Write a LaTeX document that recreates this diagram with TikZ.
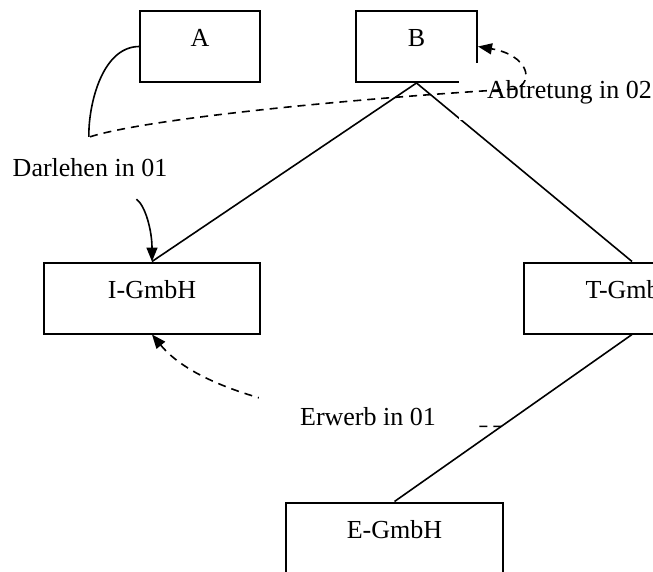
\documentclass[tikz,border=0pt]{standalone}
\usepackage{fontspec}
\setmainfont{Liberation Serif}
\usetikzlibrary{arrows.meta, calc, positioning}

\begin{document}
\begin{tikzpicture}[
  x=1pt, y=-1pt,
  font=\fontsize{26}{30}\selectfont,
  box/.style={draw, line width=2pt, rectangle, inner sep=0pt, minimum height=71pt, text height=18pt, text depth=18pt},
  link/.style={line width=1.6pt},
  lbl/.style={fill=white, inner sep=0pt},
  arrowL/.style={line width=1.6pt, -{Triangle[length=14pt, width=11pt]}},
  arrowD/.style={arrowL, dash pattern=on 8pt off 6pt}
]
\clip (0,0) rectangle (653,572);

% Companies
\node[box, minimum width=120pt] (A) at (200,46.5) {A};
\node[box, minimum width=121pt] (B) at (416.5,46.5) {B};
\node[box, minimum width=216pt] (I) at (152,298) {I-GmbH};
\node[box, minimum width=216pt] (T) at (632,298) {T-GmbH};
\node[box, minimum width=217pt] (E) at (394.5,538) {E-GmbH};

% Holdings of B
\draw[link] (B.south) -- (I.north);
\draw[link] (B.south) -- (T.north);

% Loan A -> I-GmbH
\node[lbl, minimum height=62pt, inner xsep=4pt] (dl) at (90,168) {Darlehen in 01};
\draw[arrowL] (A.west) .. controls (100,47) and (88,110) .. (dl)
   .. controls (145,205) and (152,230) .. (I.north);

% Assignment to B
\node[lbl, anchor=west, minimum height=57pt, inner xsep=28pt] (abl) at (459,92) {Abtretung in 02};
\coordinate (ab) at (515,89);
\draw[arrowD] (dl.north) .. controls (150,118) and (360,98) .. (ab)
   .. controls (535,82) and (528,55) .. (B.east);

% Acquisition by I-GmbH
\coordinate (ew) at ($(T.south)!0.55!(E.north)$);
\draw[arrowD] (ew) .. controls (380,428) and (210,405) .. (I.south);
\node[lbl, minimum width=218pt, minimum height=60pt] (ewl) at (368,417) {Erwerb in 01};

% Holding of T-GmbH
\draw[link] (T.south) -- (E.north);

\end{tikzpicture}
\end{document}
